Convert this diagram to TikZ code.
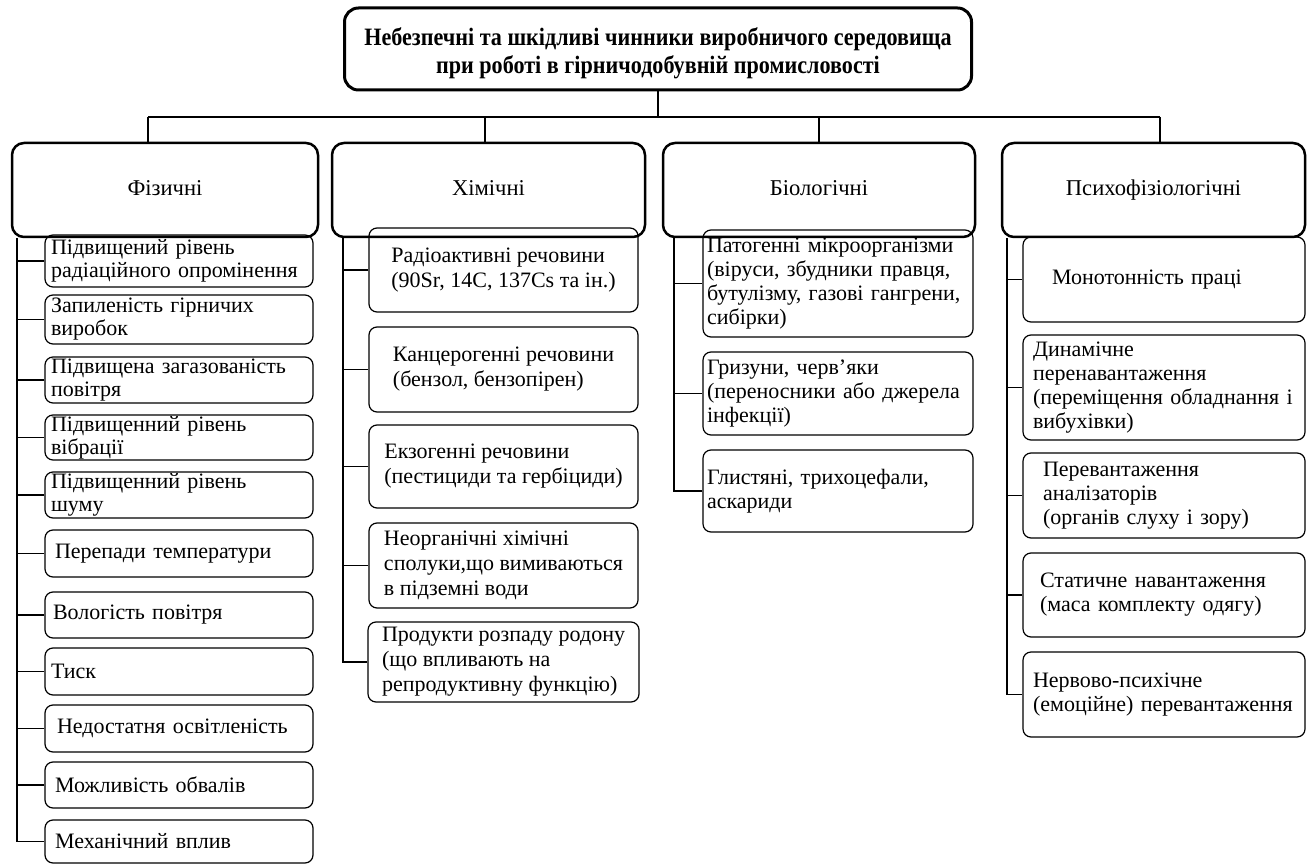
\documentclass[tikz,border=0pt]{standalone}
\usepackage{fontspec}
\setmainfont{Liberation Serif}
\newfontfamily\titlefont{Liberation Serif}[FakeStretch=0.885]
\usetikzlibrary{positioning}

\begin{document}
\begin{tikzpicture}[x=0.5pt,y=-0.5pt,line width=0.65pt,
    every node/.style={font=\fontsize{11}{12.5}\selectfont},
    topbox/.style={draw, line width=1.5pt, rounded corners=7pt,
      minimum width=313.5pt, minimum height=41pt, align=center,
      font=\titlefont\bfseries\fontsize{12.5}{14}\selectfont},
    head/.style={draw, line width=1.25pt, rounded corners=6pt, minimum height=47pt,
      text height=1.6ex, text depth=0.3ex, font=\fontsize{11.3}{13}\selectfont},
    item/.style={draw, line width=0.6pt, rounded corners=4pt, align=left, inner ysep=0.5pt},
    fiz/.style={item, text width=128pt, inner xsep=3pt, font=\fontsize{11}{11.5}\selectfont},
    him/.style={item, minimum width=134.5pt, inner xsep=7pt},
    bio/.style={item, text width=131pt, inner xsep=2pt, font=\fontsize{11}{12}\selectfont},
    psy/.style={item, text width=131pt, inner xsep=5pt, font=\fontsize{11}{12}\selectfont}]
  \useasboundingbox (0,0) rectangle (1309,865);

  % root
  \node[topbox] (top) at (658,49) {\rule{0pt}{13.5pt}Небезпечні та шкідливі чинники виробничого середовища\\при роботі в гірничодобувній промисловості};

  % groups
  \node[head, minimum width=153pt]   (fiz) at (165,190)    {Фізичні};
  \node[head, minimum width=156.5pt] (him) at (488.5,190)  {Хімічні};
  \node[head, minimum width=156pt]   (bio) at (819,190)    {Біологічні};
  \node[head, minimum width=151.5pt] (psy) at (1153.5,190) {Психофізіологічні};

  % physical
  \node[fiz, minimum height=26pt]   (f1)  at (179,261)   {Підвищений рівень\\радіаційного опромінення};
  \node[fiz, minimum height=24.5pt] (f2)  at (179,319.5) {Запиленість гірничих\\виробок};
  \node[fiz, minimum height=23pt]   (f3)  at (179,380)   {Підвищена загазованість\\повітря};
  \node[fiz, minimum height=22.5pt] (f4)  at (179,437.5) {Підвищенний рівень\\вібрації};
  \node[fiz, minimum height=23pt]   (f5)  at (179,495)   {Підвищенний рівень\\шуму};
  \node[fiz, minimum height=23.5pt] (f6)  at (179,553.5) {\hspace*{2pt}Перепади температури};
  \node[fiz, minimum height=23pt]   (f7)  at (179,615)   {\hspace*{1pt}Вологість повітря};
  \node[fiz, minimum height=23.5pt] (f8)  at (179,671.5) {Тиск};
  \node[fiz, minimum height=23.5pt] (f9)  at (179,728.5) {\hspace*{3pt}Недостатня освітленість};
  \node[fiz, minimum height=23pt]   (f10) at (179,785)   {\hspace*{2pt}Можливість обвалів};
  \node[fiz, minimum height=21.5pt] (f11) at (179,841.5) {\hspace*{2pt}Механічний вплив};

  % chemical
  \node[him, minimum height=42pt]   (h1) at (503.5,270)   {Радіоактивні речовини\\(90Sr, 14C, 137Cs та ін.)};
  \node[him, minimum height=42.5pt] (h2) at (503.5,369.5) {Канцерогенні речовини\\(бензол, бензопірен)};
  \node[him, minimum height=41.5pt] (h3) at (503.5,466.5) {Екзогенні речовини\\(пестициди та гербіциди)};
  \node[him, minimum height=42.5pt] (h4) at (503.5,565.5) {Неорганічні хімічні\\сполуки,що вимиваються\\в підземні води};
  \node[him, minimum height=40pt]   (h5) at (503.5,662)   {Продукти розпаду родону\\(що впливають на\\репродуктивну функцію)};

  % biological
  \node[bio, minimum height=53.5pt] (b1) at (838,283.5) {Патогенні мікроорганізми\\(віруси, збудники правця,\\бутулізму, газові гангрени,\\сибірки)};
  \node[bio, minimum height=41.5pt] (b2) at (838,393.5) {Гризуни, черв’яки\\(переносники або джерела\\інфекції)};
  \node[bio, minimum height=41pt]   (b3) at (838,491)   {Глистяні, трихоцефали,\\аскариди};

  % psychophysiological
  \node[psy, minimum height=42.5pt] (p1) at (1164,279.5) {\hspace*{9.5pt}Монотонність праці};
  \node[psy, minimum height=52.5pt] (p2) at (1164,387.5) {Динамічне\\перенавантаження\\(переміщення обладнання і\\вибухівки)};
  \node[psy, minimum height=42.5pt] (p3) at (1164,495.5) {\hspace*{5pt}Перевантаження\\\hspace*{5pt}аналізаторів\\\hspace*{5pt}(органів слуху і зору)};
  \node[psy, minimum height=42pt]   (p4) at (1164,595)   {\hspace*{3.5pt}Статичне навантаження\\\hspace*{3.5pt}(маса комплекту одягу)};
  \node[psy, minimum height=42.5pt] (p5) at (1164,694.5) {Нервово-психічне\\(емоційне) перевантаження};

  % bus
  \coordinate (dF) at (148,117);
  \coordinate (dH) at (485,117);
  \coordinate (dB) at (819,117);
  \coordinate (dP) at (1160,117);
  \draw (top.south) -- (top.south |- dF);
  \draw (dF) -- (dP);
  \foreach \d/\h in {dF/fiz, dH/him, dB/bio, dP/psy}
    \draw (\d) -- (\d |- \h.north);

  % spines
  \coordinate (sF) at (17,0);
  \coordinate (sH) at (343,0);
  \coordinate (sB) at (674,0);
  \coordinate (sP) at (1007,0);
  \draw (fiz.south -| sF) |- (f11.west);
  \foreach \i in {1,...,10}
    \draw (f\i.west) -- (f\i.west -| sF);
  \draw (him.south -| sH) |- (h5.west);
  \foreach \i in {1,...,4}
    \draw (h\i.west) -- (h\i.west -| sH);
  \draw (bio.south -| sB) |- (b3.west);
  \foreach \i in {1,2}
    \draw (b\i.west) -- (b\i.west -| sB);
  \draw (psy.south -| sP) |- (p5.west);
  \foreach \i in {1,...,4}
    \draw (p\i.west) -- (p\i.west -| sP);
\end{tikzpicture}
\end{document}
